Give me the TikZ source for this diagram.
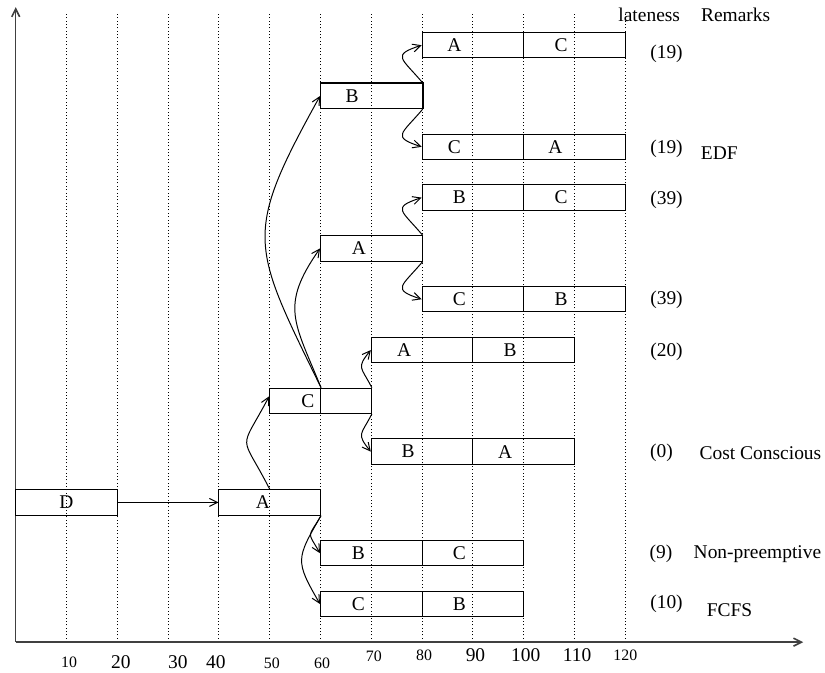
\documentclass[tikz,border=0pt]{standalone}
\usepackage{fontspec}
\setmainfont{Liberation Serif}
\usetikzlibrary{arrows.meta}

\begin{document}
\begin{tikzpicture}[x=0.9mm, y=0.9mm, font=\fontsize{9.8}{12}\selectfont,
  cell/.style={draw, line width=0.5pt, minimum width=18mm, minimum height=4.5mm, inner sep=0pt},
  half/.style={cell, minimum width=9mm},
  grid/.style={line width=0.5pt, dash pattern=on 0.5pt off 1.2pt},
  axis/.style={line width=0.8pt, black!75, -{Straight Barb[length=4pt, width=4pt]}},
  link/.style={line width=0.5pt, -{Straight Barb[length=4pt, width=4pt]}},
  small/.style={font=\fontsize{8}{10}\selectfont}]

\useasboundingbox (-3.09,-5.9) rectangle (159.3,126.4);

% Grid
\foreach \t in {10,20,...,120}
  \draw[grid] (\t,0) -- (\t,124);

% Axes
\coordinate (O) at (0,0);
\coordinate (X) at (155,0);
\coordinate (Y) at (0,125);
\draw[axis] (O) -- (X);
\draw[axis] (O) -- (Y);

% Time labels
\foreach \t/\x/\y in {10/10.5/-4, 50/50.4/-4.1, 60/60.3/-4.1, 70/70.5/-2.7, 80/80.4/-2.6, 120/120/-2.6}
  \node[small] (t\t) at (\x,\y) {\t};
\foreach \t/\x/\y in {20/20.7/-3.9, 30/31.9/-3.9, 40/39.4/-3.9, 90/90.5/-2.6, 100/100.4/-2.6, 110/110.5/-2.6}
  \node (t\t) at (\x,\y) {\t};

% Boxes
\node[cell, label={center:D}] (d) at (10,27.5) {};
\node[cell, label={[xshift=-1.2mm]center:A}] (a) at (50,27.5) {};
\node[half, label={[xshift=2.25mm]center:C}] (cl) at (55,47.5) {};
\node[half] (cr) at (65,47.5) {};
\node[cell, label={[xshift=-3.4mm]center:B}] (b) at (70,107.5) {};
\draw[line width=1pt] (b.north west) -- (b.north east) -- (b.south east);
\node[cell, label={[xshift=-2.2mm]center:A}] (a2) at (70,77.5) {};

\node[cell, label={[xshift=-3.3mm]center:A}] (ac1) at (90,117.5) {};
\node[cell, label={[xshift=-2.4mm]center:C}] (ac2) at (110,117.5) {};
\node[cell, label={[xshift=-3.3mm]center:C}] (ca1) at (90,97.5) {};
\node[cell, label={[xshift=-3.4mm]center:A}] (ca2) at (110,97.5) {};
\node[cell, label={[xshift=-2.4mm]center:B}] (bc1) at (90,87.5) {};
\node[cell, label={[xshift=-2.4mm]center:C}] (bc2) at (110,87.5) {};
\node[cell, label={[xshift=-2.4mm]center:C}] (cb1) at (90,67.5) {};
\node[cell, label={[xshift=-2.4mm]center:B}] (cb2) at (110,67.5) {};

\node[cell, label={[xshift=-3.2mm]center:A}] (ab1) at (80,57.5) {};
\node[cell, label={[xshift=-2.4mm]center:B}] (ab2) at (100,57.5) {};
\node[cell, label={[xshift=-2.5mm]center:B}] (ba1) at (80,37.5) {};
\node[cell, label={[xshift=-3.3mm]center:A}] (ba2) at (100,37.5) {};

\node[cell, label={[xshift=-2.3mm]center:B}] (np1) at (70,17.5) {};
\node[cell, label={[xshift=-2.4mm]center:C}] (np2) at (90,17.5) {};
\node[cell, label={[xshift=-2.3mm]center:C}] (fc1) at (70,7.5) {};
\node[cell, label={[xshift=-2.4mm]center:B}] (fc2) at (90,7.5) {};

% Links
\draw[link] (d.east) -- (a.west);
\draw[link] (a.north) to[out=117, in=242, looseness=1.8] (cl.170);
\draw[link] (a.south east) to[out=240, in=120, looseness=1.8] (np1.west);
\draw[link] (a.south east) to[out=240, in=120, looseness=1.45] (fc1.west);
\draw[link] (cl.north east) to[out=116, in=241, looseness=1.4] (b.west);
\draw[link] (cl.north east) to[out=112, in=235, looseness=1.3] (a2.west);
\draw[link] (cr.north east) to[out=117, in=231, looseness=1.6] (ab1.west);
\draw[link] (cr.south east) to[out=243, in=129, looseness=1.6] (ba1.west);
\draw[link] (b.north east) to[out=130, in=198, looseness=2.2] (ac1.west);
\draw[link] (b.south east) to[out=230, in=162, looseness=2.2] (ca1.west);
\draw[link] (a2.north east) to[out=130, in=198, looseness=2.2] (bc1.west);
\draw[link] (a2.south east) to[out=230, in=162, looseness=2.2] (cb1.west);

% Lateness and remarks
\node (late) at (124.7,123.4) {lateness};
\node (rem) at (141.7,123.4) {Remarks};
\node (l1) at (128.1,115.9) {(19)};
\node (l2) at (128.1,97.2) {(19)};
\node (edf) at (138.5,96.2) {EDF};
\node (l3) at (128.1,87.1) {(39)};
\node (l4) at (128.1,67.3) {(39)};
\node (l5) at (128.1,57.1) {(20)};
\node (l6) at (127.1,37.3) {(0)};
\node (cc) at (146.6,37.3) {Cost Conscious};
\node (l7) at (127.0,17.3) {(9)};
\node (np) at (146.0,17.3) {Non-preemptive};
\node (l8) at (128.1,7.5) {(10)};
\node (fcfs) at (140.5,6.3) {FCFS};

\end{tikzpicture}
\end{document}
